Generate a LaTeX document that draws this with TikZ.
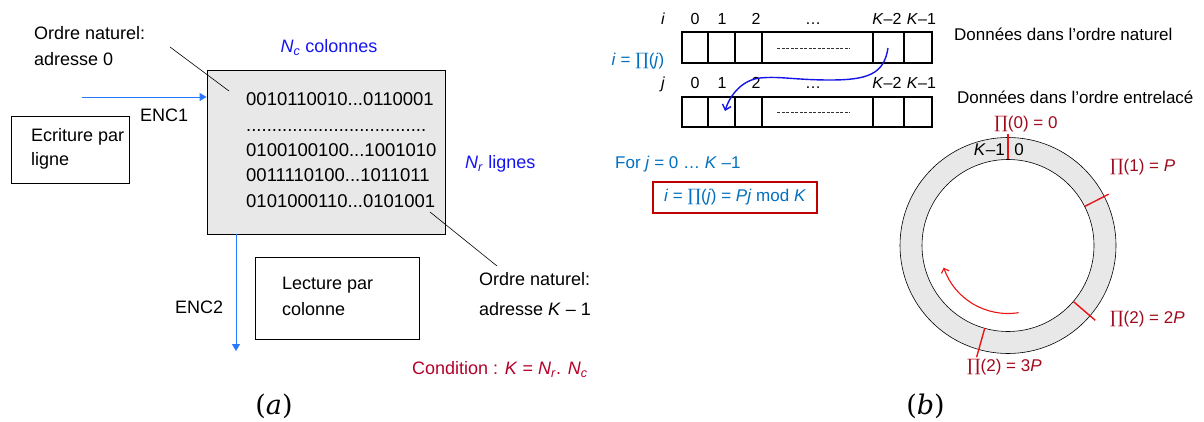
\documentclass[tikz,border=0pt]{standalone}
\usepackage{fontspec}
\setmainfont{Liberation Sans}
\newfontfamily\pifont{DejaVu Serif}
\usetikzlibrary{arrows.meta,calc}
\definecolor{nblue}{RGB}{20,20,240}
\definecolor{lblue}{RGB}{0,112,192}
\definecolor{ablue}{RGB}{40,120,255}
\definecolor{cblue}{RGB}{20,20,230}
\definecolor{dred}{RGB}{160,10,30}
\definecolor{cred}{RGB}{180,0,40}
\definecolor{mred}{RGB}{235,20,20}
\definecolor{boxred}{RGB}{192,0,0}
\definecolor{lgray}{RGB}{232,232,232}
\newcommand\PIsym{{\pifont ∏}}
\begin{document}
\begin{tikzpicture}[x=1pt,y=-1pt,
  txt/.style={inner sep=0pt, text height=0.72em, text depth=0pt, font=\fontsize{17}{20}\selectfont},
  ltxt/.style={txt, font=\fontsize{18}{21}\selectfont},
  bin/.style={txt, font=\fontsize{18.5}{21}\selectfont, anchor=west},
  lbl/.style={txt, anchor=west},
  llbl/.style={ltxt, anchor=west},
  idx/.style={txt, font=\fontsize{16}{19}\selectfont},
  lead/.style={draw=black, line width=0.6pt},
  encarrow/.style={draw=ablue, line width=0.9pt, -{Triangle[length=7pt,width=8pt]}},
  plainbox/.style={draw=black, line width=0.9pt, inner sep=0pt},
  cellline/.style={draw=black, line width=1.4pt},
  dashline/.style={draw=black!80, line width=0.7pt, dash pattern=on 3pt off 1.5pt},
  marker/.style={draw=mred, line width=1.4pt},
  sublbl/.style={inner sep=0pt, font=\pifont\fontsize{27}{31}\selectfont},
]
\useasboundingbox (0,0) rectangle (1204,422);

% ---------------- (a) ----------------
\node[llbl] (on0a) at (34,36) {Ordre naturel:};
\node[llbl] (on0b) at (34,62) {adresse 0};

\node[plainbox, fill=lgray, minimum width=238, minimum height=164] (mat) at (326,152) {};
\node[ltxt, text=nblue] (nc) at (329,49) {\textit{N}\textsubscript{\textit{c}} colonnes};
\node[llbl, text=nblue] (nr) at (465,165) {\textit{N}\textsubscript{\textit{r}} lignes};

\node[bin] (b1) at (246,102) {0010110010...0110001};
\node[bin, anchor=base west] (bd) at (246,132) {...................................};
\node[bin] (b2) at (246,153) {0100100100...1001010};
\node[bin] (b3) at (246,178) {0011110100...1011011};
\node[bin] (b4) at (246,204) {0101000110...0101001};

\coordinate (l1s) at (170,47);
\coordinate (l1e) at (229,91);
\draw[lead] (l1s) -- (l1e);

\coordinate (enc1s) at (82,97);
\draw[encarrow] (enc1s) -- (mat.west |- enc1s);
\node[llbl] (enc1) at (140,118) {ENC1};

\node[plainbox, minimum width=118, minimum height=67] (ecr) at (70,149.5) {};
\node[llbl] (ecr1) at (31,138) {Ecriture par};
\node[llbl] (ecr2) at (31,162) {ligne};

\coordinate (enc2s) at (236,234);
\coordinate (enc2e) at (236,351);
\draw[encarrow] (enc2s) -- (enc2e);
\node[llbl] (enc2) at (175,310) {ENC2};

\node[plainbox, minimum width=164, minimum height=82] (lec) at (337,298) {};
\node[llbl] (lec1) at (282,286) {Lecture par};
\node[llbl] (lec2) at (282,312) {colonne};

\coordinate (l2s) at (430,212);
\coordinate (l2e) at (497,266);
\draw[lead] (l2s) -- (l2e);
\node[llbl] (onka) at (479,282) {Ordre naturel:};
\node[llbl] (onkb) at (479,312) {adresse \textit{K} – 1};

\node[llbl, text=cred] (cond) at (412,371) {Condition : \textit{K} = \textit{N}\textsubscript{\textit{r}}. \textit{N}\textsubscript{\textit{c}}};

\node[sublbl] (suba) at (274,406) {(\textit{a})};

% ---------------- (b) ----------------
\node[idx] (ii) at (663,21) {\textit{i}};
\node[idx] (jj) at (663,85) {\textit{j}};
\foreach \x/\t/\n in {695/0/a,722/1/b,756/2/c,813/…/d,887/\textit{K}–2/e,921.5/\textit{K}–1/f}{
  \node[idx] (i\n) at (\x,21) {\t};
  \node[idx] (j\n) at (\x,85) {\t};
}
\draw[cellline] (682,32) rectangle (932,63);
\draw[cellline] (682,97) rectangle (932,127);
\foreach \x in {708,735,762,873,904}{
  \draw[cellline] (\x,32) -- (\x,63);
  \draw[cellline] (\x,97) -- (\x,127);
}
\draw[dashline] (777,48) -- (850,48);
\draw[dashline] (777,112) -- (850,112);

\node[lbl] (dnat) at (954,37) {Données dans l'ordre naturel};
\node[lbl] (dent) at (957,100) {Données dans l'ordre entrelacé};

\node[txt, text=lblue] (pij) at (638,62) {\textit{i} = \PIsym(\textit{j})};

\coordinate (cs) at (888,48);
\coordinate (ce) at (725,111);
\draw[cblue, line width=1.4pt, -{Straight Barb[length=5pt,width=9pt]}]
  (cs) .. controls (884,74) and (868,80) .. (830,80)
       .. controls (795,80) and (780,76) .. (760,78)
       .. controls (742,80) and (730,95) .. (ce);

\node[lbl, text=lblue] (forj) at (615,165) {For \textit{j} = 0 … \textit{K} –1};
\node[draw=boxred, line width=1.5pt, minimum width=164, minimum height=31, inner sep=0pt, text=lblue,
      font=\fontsize{17}{20}\selectfont] (formula) at (735,197.5) {\textit{i} = \PIsym(\textit{j}) = \textit{Pj} mod \textit{K}};

% ring
\coordinate (c) at (1008,245.5);
\draw[black, line width=0.6pt, fill=lgray] (c) circle[radius=108];
\draw[black, line width=0.6pt, fill=white] (c) circle[radius=86];
\node[txt, anchor=east] (k1) at (1005,152) {\textit{K}–1};
\node[txt] (z0) at (1019,152) {0};
\draw[marker, line width=1.6pt] ($(c)+(-90:86)$) -- ($(c)+(-90:111)$);
\draw[marker] ($(c)+(-27:86)$) -- ($(c)+(-27:113)$);
\draw[marker] ($(c)+(40.6:86)$) -- ($(c)+(40.6:115)$);
\draw[marker] ($(c)+(105.7:86)$) -- ($(c)+(105.7:116)$);

\node[txt, text=dred] (p0) at (1026,125) {\PIsym(0) = 0};
\node[lbl, text=dred] (p1) at (1110,168) {\PIsym(1) = \textit{P}};
\node[lbl, text=dred] (p2) at (1110,320) {\PIsym(2) = 2\textit{P}};
\node[lbl, text=dred] (p3) at (967,368) {\PIsym(2) = 3\textit{P}};

\draw[mred, line width=1.1pt, -{Straight Barb[length=4pt,width=8pt]}]
  ($(c)+(81:68)$) arc[start angle=81, end angle=161, radius=68];

\node[sublbl] (subb) at (925.5,406) {(\textit{b})};
\end{tikzpicture}
\end{document}
